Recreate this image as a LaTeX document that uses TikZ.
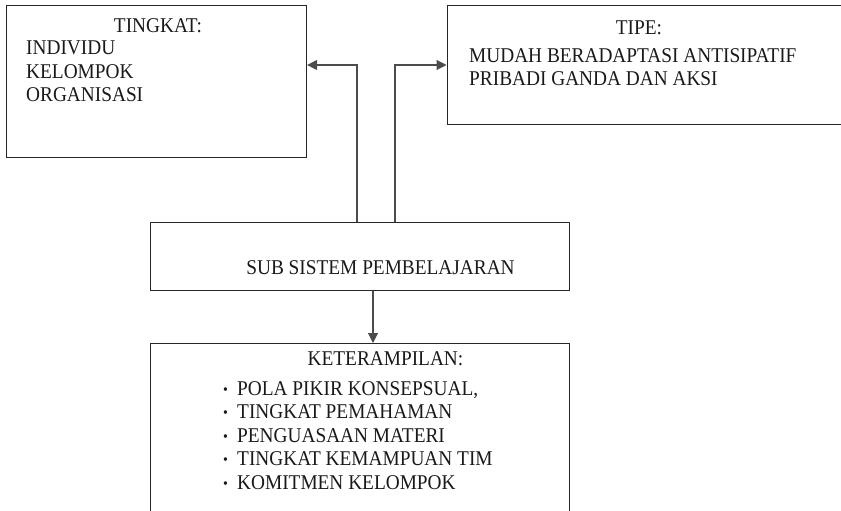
\documentclass[tikz,border=0pt]{standalone}
\usepackage{fontspec}
\setmainfont[FakeStretch=0.92]{Liberation Serif}
\usetikzlibrary{arrows.meta}
\begin{document}
\begin{tikzpicture}[x=1pt,y=-1pt,
  box/.style={draw=black!85, line width=1.1pt, rectangle, inner sep=0pt, anchor=north west},
  lbl/.style={font=\fontsize{21}{24}\selectfont, inner sep=0pt, anchor=base west, text=black!90},
  ttl/.style={lbl, anchor=base},
  dotmark/.style={font=\fontsize{15}{18}\selectfont, inner sep=0pt, anchor=base west, text=black!90},
  conn/.style={draw=black!70, line width=1.1pt},
  tip/.style={-{Triangle[length=10pt,width=10pt]}}]
\useasboundingbox (0,0) rectangle (841,511);
\clip (0,0) rectangle (841,511);

% boxes
\node[box, minimum width=300.5pt, minimum height=152pt] (tingkat) at (5.5,5) {};
\node[box, minimum width=414pt, minimum height=119pt] (tipe) at (446.5,5) {};
\node[box, minimum width=419.5pt, minimum height=67.5pt] (mid) at (149.5,222) {};
\node[box, minimum width=419.5pt, minimum height=190pt] (ket) at (149.5,343) {};

% texts of the upper left box
\node[ttl] (t0) at (158,33) {TINGKAT:};
\node[lbl] (t1) at (26,55) {INDIVIDU};
\node[lbl] (t2) at (26,79) {KELOMPOK};
\node[lbl] (t3) at (26,102) {ORGANISASI};

% texts of the upper right box
\node[ttl] (p0) at (639,35) {TIPE:};
\node[lbl] (p1) at (469,63) {MUDAH BERADAPTASI ANTISIPATIF};
\node[lbl] (p2) at (469,85) {PRIBADI GANDA DAN AKSI};

% middle box
\node[ttl] (m0) at (380.5,274) {SUB SISTEM PEMBELAJARAN};

% lower box with the list
\node[ttl] (k0) at (385.5,365) {KETERAMPILAN:};
\foreach \t [count=\i from 0] in {{POLA PIKIR KONSEPSUAL,},TINGKAT PEMAHAMAN,PENGUASAAN MATERI,TINGKAT KEMAMPUAN TIM,KOMITMEN KELOMPOK}{
  \node[dotmark] (kb\i) at (223,394+23.5*\i) {\textbullet};
  \node[lbl] (k\i) at (237,395+23.5*\i) {\t};
}

% connectors
\coordinate (jl) at (357,65);
\coordinate (jr) at (395,65);
\coordinate (jd) at (373,300);
\draw[conn,tip] (mid.north -| jl) |- (tingkat.east |- jl);
\draw[conn,tip] (mid.north -| jr) |- (tipe.west |- jr);
\draw[conn,tip] (mid.south -| jd) -- (ket.north -| jd);
\end{tikzpicture}
\end{document}
